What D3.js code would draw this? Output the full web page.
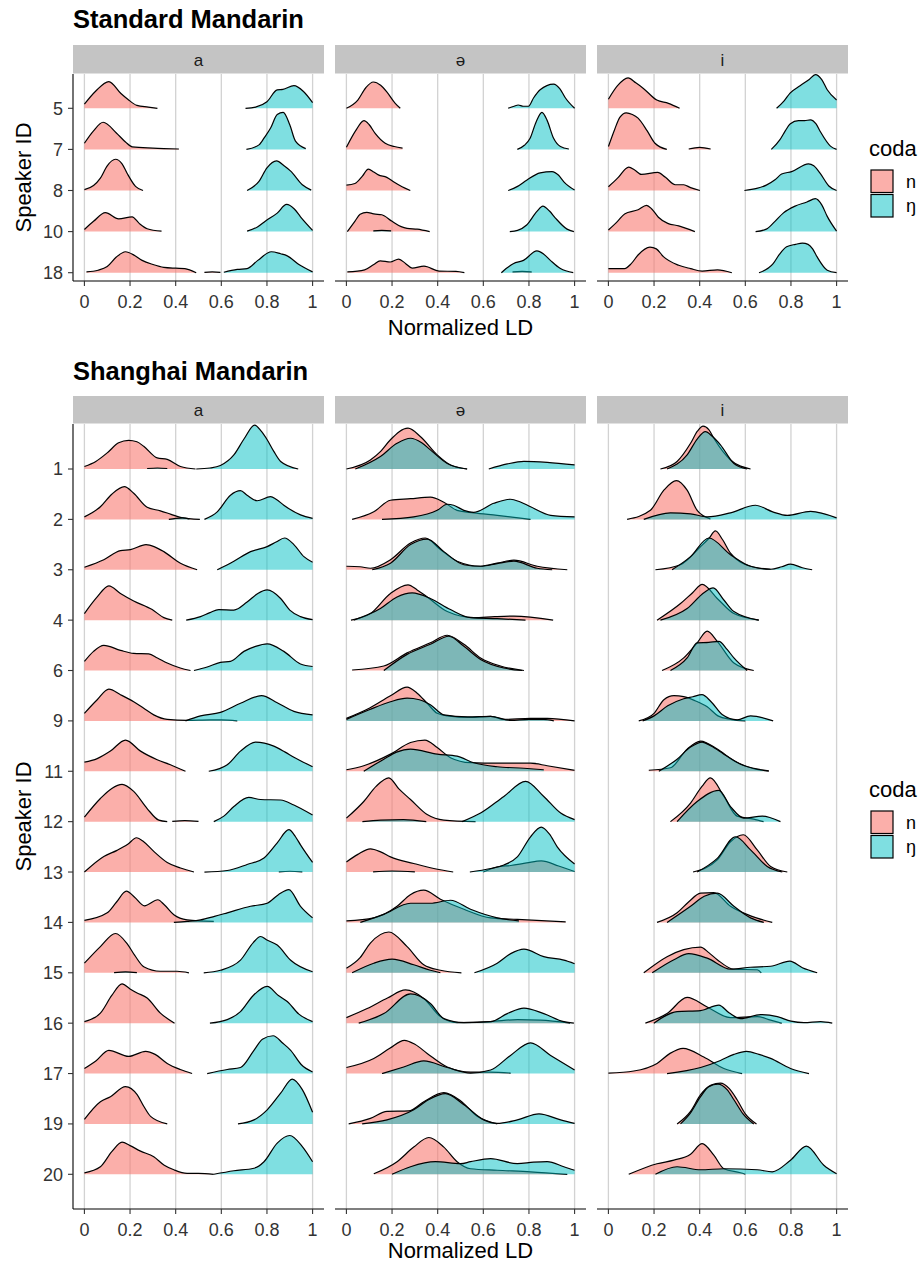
<!DOCTYPE html>
<html><head><meta charset="utf-8">
<script src="https://cdn.jsdelivr.net/npm/d3@7"></script>
<style>body{margin:0;background:#fff} text{font-family:"Liberation Sans",Arial,Helvetica,sans-serif}</style>
</head><body><svg id="c" width="922" height="1263"></svg>
<script>
const vowels = ["a","ə","i"];
const codas = ["n","ŋ"];
const codaColors = ["#F8766D","#00BFC4"];
const codaOpacity = [0.58,0.5];
const xTicks = [0,0.2,0.4,0.6,0.8,1];
const xTickLabels = ["0","0.2","0.4","0.6","0.8","1"];
const stdSpeakers = ["5","7","8","10","18"];
const shSpeakers = ["1","2","3","4","6","9","11","12","13","14","15","16","17","19","20"];

// Each ridge: [normalized LD, relative density height]; a null height breaks the ridge
const std_a_n = {
"5":[[0,.10],[.05,.42],[.107,.65],[.16,.36],[.19,.22],[.23,.07],[.28,.03],[.32,0]],
"7":[[0,.15],[.04,.45],[.082,.66],[.14,.40],[.18,.18],[.21,.06],[.3,.03],[.414,.01]],
"8":[[0,.02],[.04,.12],[.07,.30],[.10,.60],[.136,.76],[.165,.65],[.187,.42],[.224,.1],[.257,0]],
"10":[[0,.05],[.04,.25],[.092,.46],[.15,.31],[.209,.36],[.24,.2],[.275,.07],[.338,.01]],
"18":[[.009,.02],[.06,.06],[.1,.15],[.14,.38],[.18,.51],[.22,.42],[.253,.3],[.3,.2],[.348,.13],[.4,.11],[.44,.1],[.49,0],[.51,null],[.526,.01],[.56,.02],[.596,.01]]
};
const std_a_ng = {
"5":[[.706,0],[.75,.03],[.80,.16],[.845,.45],[.87,.46],[.918,.55],[.96,.41],[1,.14]],
"7":[[.71,0],[.765,.11],[.79,.3],[.816,.52],[.845,.85],[.871,.9],[.9,.6],[.925,.2],[.97,.02]],
"8":[[.713,0],[.765,.22],[.80,.55],[.842,.72],[.875,.6],[.904,.47],[.955,.14],[.994,.01]],
"10":[[.713,.01],[.76,.12],[.794,.26],[.845,.45],[.886,.66],[.92,.55],[.947,.36],[1,.03]],
"18":[[.611,.01],[.67,.08],[.713,.1],[.76,.3],[.819,.51],[.86,.46],[.889,.41],[.94,.2],[1,.02]]
};
const std_e_n = {
"5":[[0,0],[.05,.2],[.085,.5],[.118,.64],[.15,.56],[.177,.4],[.214,.12],[.236,0]],
"7":[[0,.05],[.04,.45],[.077,.70],[.10,.6],[.126,.39],[.17,.15],[.21,.07],[.246,.03]],
"8":[[0,.13],[.037,.17],[.07,.35],[.096,.52],[.12,.45],[.14,.38],[.177,.32],[.21,.2],[.244,.09],[.28,0]],
"10":[[.004,0],[.037,.25],[.06,.42],[.089,.47],[.12,.43],[.155,.41],[.2,.25],[.24,.12],[.266,.08],[.31,.06],[.365,0]],
"18":[[.004,.02],[.08,.07],[.12,.2],[.148,.29],[.192,.26],[.229,.33],[.26,.22],[.288,.11],[.34,.16],[.406,.04],[.48,.03],[.517,0],[.6,null],[.728,.02],[.77,.03],[.812,.02]]
};
const std_e_ng = {
"5":[[.709,0],[.735,.05],[.753,.08],[.775,.05],[.798,.05],[.82,.25],[.849,.45],[.908,.59],[.935,.48],[.96,.25],[1,0]],
"7":[[.749,0],[.78,.1],[.805,.27],[.83,.65],[.857,.9],[.88,.7],[.908,.27],[.938,.07],[.975,.01]],
"8":[[.709,0],[.75,.1],[.79,.25],[.849,.43],[.901,.46],[.93,.37],[.953,.21],[1,.01]],
"10":[[.118,.02],[.155,.03],[.196,.02],[.45,null],[.716,0],[.75,.03],[.79,.16],[.835,.49],[.861,.62],[.89,.5],[.916,.33],[.967,.06],[.997,0]],
"18":[[.679,0],[.70,.1],[.731,.22],[.776,.3],[.835,.53],[.865,.45],[.894,.3],[.938,.1],[.994,0]]
};
const std_i_n = {
"5":[[0,.22],[.04,.55],[.086,.74],[.12,.62],[.152,.49],[.212,.2],[.263,.12],[.312,0]],
"7":[[0,.07],[.027,.48],[.05,.78],[.078,.89],[.105,.85],[.13,.76],[.17,.45],[.204,.15],[.256,0],[.3,null],[.352,.01],[.40,.05],[.448,.01]],
"8":[[0,.09],[.04,.3],[.089,.57],[.115,.5],[.145,.39],[.216,.44],[.25,.32],[.293,.14],[.33,.14],[.36,.07],[.401,0]],
"10":[[0,.04],[.04,.25],[.071,.43],[.13,.53],[.167,.64],[.19,.55],[.219,.35],[.26,.2],[.308,.14],[.379,0]],
"18":[[0,.1],[.071,.1],[.1,.22],[.13,.43],[.182,.62],[.21,.58],[.241,.39],[.308,.18],[.36,.1],[.411,.04],[.478,.07],[.541,0]]
};
const std_i_ng = {
"5":[[.737,0],[.77,.18],[.796,.37],[.84,.55],[.88,.7],[.907,.82],[.935,.7],[.959,.45],[1,.2]],
"7":[[.714,0],[.751,.23],[.775,.45],[.796,.62],[.833,.70],[.86,.7],[.885,.72],[.91,.62],[.929,.43],[.973,.08],[1,0]],
"8":[[.596,0],[.65,.05],[.692,.13],[.73,.26],[.759,.4],[.803,.46],[.877,.65],[.9,.6],[.929,.41],[.966,.11],[1,0]],
"10":[[.645,0],[.692,.06],[.73,.25],[.766,.45],[.818,.62],[.87,.72],[.907,.8],[.935,.65],[.959,.37],[1,.01]],
"18":[[.66,0],[.722,.22],[.75,.45],[.781,.63],[.82,.69],[.85,.72],[.875,.69],[.895,.58],[.914,.39],[.959,.06],[1,0]]
};

const sh_a_n = {
"1":[[0,.05],[.05,.15],[.1,.32],[.15,.52],[.194,.57],[.23,.54],[.26,.45],[.319,.22],[.363,.19],[.421,.05],[.487,0]],
"2":[[0,.05],[.07,.25],[.12,.5],[.175,.65],[.216,.52],[.275,.24],[.333,.17],[.38,.1],[.421,.04],[.506,0]],
"3":[[0,.05],[.085,.2],[.158,.38],[.202,.4],[.27,.5],[.31,.45],[.348,.36],[.421,.13],[.494,0]],
"4":[[0,.13],[.056,.46],[.107,.68],[.158,.53],[.216,.38],[.297,.21],[.348,.05],[.385,0]],
"6":[[0,.18],[.04,.38],[.085,.5],[.158,.4],[.216,.34],[.282,.33],[.32,.25],[.363,.15],[.42,.05],[.465,0]],
"9":[[0,.15],[.056,.42],[.107,.63],[.158,.52],[.216,.38],[.26,.25],[.304,.12],[.363,.03],[.45,.01],[.55,.02],[.6,.02],[.67,0]],
"11":[[0,.18],[.056,.25],[.114,.4],[.18,.62],[.246,.4],[.319,.23],[.377,.13],[.443,0]],
"12":[[0,.09],[.07,.46],[.12,.66],[.165,.74],[.216,.6],[.275,.26],[.326,.03],[.363,0],[.375,null],[.385,.005],[.44,.02],[.5,.005]],
"13":[[0,0],[.085,.31],[.143,.43],[.19,.55],[.228,.68],[.26,.6],[.304,.41],[.363,.19],[.421,.08],[.48,0],[.5,null],[.852,.005],[.9,.015],[.955,.005]],
"14":[[0,.04],[.1,.19],[.14,.4],[.184,.62],[.22,.5],[.263,.33],[.322,.45],[.35,.35],[.392,.15],[.45,.05],[.567,.02]],
"15":[[0,.19],[.07,.52],[.136,.78],[.187,.58],[.22,.35],[.26,.12],[.333,.03],[.406,.03],[.458,0]],
"16":[[0,.03],[.07,.2],[.12,.55],[.165,.78],[.2,.68],[.231,.6],[.275,.5],[.333,.2],[.395,0]],
"17":[[0,.1],[.05,.25],[.107,.46],[.194,.34],[.268,.44],[.31,.38],[.363,.2],[.42,.08],[.472,0]],
"19":[[0,.09],[.07,.44],[.114,.54],[.18,.74],[.231,.58],[.26,.35],[.29,.15],[.363,0]],
"20":[[0,.03],[.07,.15],[.12,.45],[.165,.64],[.2,.57],[.246,.46],[.304,.35],[.35,.18],[.392,.09],[.45,.02],[.5,.02],[.567,0]]
};
const sh_a_ng = {
"1":[[.275,.01],[.32,.02],[.363,.01],[.4,null],[.49,0],[.55,.02],[.596,.07],[.655,.28],[.70,.6],[.746,.87],[.775,.75],[.801,.58],[.83,.35],[.86,.15],[.937,0]],
"2":[[.37,0],[.40,.02],[.43,.03],[.46,.01],[.5,null],[.526,0],[.582,.15],[.64,.48],[.684,.57],[.713,.48],[.757,.37],[.816,.45],[.84,.4],[.874,.28],[.947,.09],[1,.02]],
"3":[[.582,0],[.655,.17],[.728,.36],[.801,.46],[.84,.55],[.877,.63],[.918,.5],[.962,.26],[1,.15]],
"4":[[.446,0],[.509,.07],[.55,.15],[.589,.21],[.655,.2],[.713,.36],[.76,.53],[.801,.6],[.86,.43],[.9,.2],[.947,.07],[1,.01]],
"6":[[.48,0],[.538,.07],[.596,.16],[.64,.18],[.699,.38],[.75,.48],[.801,.53],[.874,.38],[.947,.13],[1,.08]],
"9":[[.443,0],[.509,.1],[.596,.17],[.684,.35],[.776,.5],[.845,.36],[.918,.19],[1,.12]],
"11":[[.545,0],[.626,.13],[.684,.4],[.75,.58],[.83,.5],[.88,.38],[.918,.28],[1,.09]],
"12":[[.567,0],[.611,.11],[.655,.3],[.72,.48],[.772,.44],[.86,.43],[.918,.33],[1,.13]],
"13":[[.526,0],[.626,.03],[.713,.15],[.787,.28],[.845,.58],[.896,.84],[.925,.7],[.947,.54],[1,.19]],
"14":[[.392,0],[.45,.02],[.509,.05],[.57,.12],[.626,.19],[.728,.32],[.801,.38],[.85,.55],[.896,.65],[.947,.32],[1,.09]],
"15":[[.13,.005],[.18,.02],[.23,.005],[.3,null],[.523,0],[.596,.05],[.684,.25],[.74,.6],[.772,.72],[.80,.65],[.845,.55],[.904,.25],[1,.02]],
"16":[[.55,0],[.626,.07],[.684,.23],[.74,.55],[.801,.73],[.85,.55],[.889,.43],[.94,.18],[1,.03]],
"17":[[.538,0],[.626,.08],[.684,.12],[.743,.46],[.78,.68],[.827,.75],[.87,.6],[.904,.46],[.95,.18],[1,.03]],
"19":[[.673,0],[.743,.08],[.801,.28],[.86,.61],[.911,.89],[.955,.68],[1,.23]],
"20":[[.567,0],[.655,.07],[.743,.12],[.787,.25],[.845,.62],[.9,.77],[.955,.55],[1,.25]]
};
const sh_e_n = {
"1":[[0,0],[.105,.18],[.15,.35],[.193,.58],[.27,.81],[.325,.64],[.398,.28],[.456,.08],[.529,0]],
"2":[[.025,0],[.12,.15],[.193,.38],[.281,.41],[.368,.44],[.427,.34],[.485,.18],[.558,.13],[.661,.08],[.807,0]],
"3":[[0,.07],[.06,.06],[.105,.03],[.193,.2],[.281,.53],[.346,.63],[.412,.4],[.485,.17],[.588,.07],[.66,.13],[.734,.19],[.836,.07],[.968,0]],
"4":[[.02,0],[.105,.13],[.193,.53],[.27,.7],[.31,.6],[.354,.46],[.442,.17],[.558,.05],[.65,.07],[.734,.08],[.906,0]],
"6":[[.025,.01],[.164,.09],[.266,.35],[.368,.55],[.442,.7],[.515,.52],[.588,.25],[.675,.09],[.778,0]],
"9":[[0,.05],[.1,.25],[.193,.5],[.266,.67],[.31,.55],[.354,.35],[.398,.15],[.442,.1],[.544,.07],[.632,.09],[.69,.03],[.807,.05],[.88,.05],[1,0]],
"11":[[0,.03],[.076,.11],[.193,.34],[.281,.57],[.344,.62],[.398,.47],[.456,.27],[.544,.17],[.661,.16],[.807,.16],[.88,.11],[1,.02]],
"12":[[0,.07],[.076,.4],[.13,.7],[.186,.87],[.23,.65],[.281,.44],[.354,.14],[.427,.03],[.566,0]],
"13":[[0,.2],[.05,.35],[.105,.46],[.15,.4],[.193,.3],[.295,.17],[.383,.07],[.468,0],[.55,null],[.6,0],[.66,.1],[.72,.13],[.79,.18],[.854,.22],[.93,.12],[1,.01]],
"14":[[0,.03],[.12,.09],[.222,.32],[.28,.55],[.339,.64],[.412,.46],[.515,.26],[.632,.09],[.749,.06],[.961,.01]],
"15":[[0,.09],[.06,.3],[.105,.59],[.186,.81],[.266,.52],[.339,.16],[.412,.05],[.504,0]],
"16":[[0,.11],[.091,.29],[.18,.5],[.259,.66],[.339,.49],[.412,.13],[.485,.01],[.632,.03],[.75,.07],[.85,.06],[.98,0]],
"17":[[0,.12],[.12,.3],[.19,.5],[.254,.66],[.3,.58],[.354,.4],[.442,.13],[.544,.03],[.63,.03],[.72,.01]],
"19":[[.01,0],[.105,.11],[.178,.25],[.273,.26],[.339,.44],[.427,.62],[.5,.46],[.573,.15],[.661,0]],
"20":[[.12,.01],[.222,.25],[.295,.54],[.361,.73],[.427,.54],[.485,.25],[.544,.11],[.661,.08],[.807,.05],[.968,0]]
};
const sh_e_ng = {
"1":[[.039,0],[.149,.25],[.222,.51],[.281,.61],[.33,.52],[.368,.38],[.442,.11],[.529,0],[.58,null],[.624,0],[.705,.1],[.778,.15],[.88,.13],[1,.08]],
"2":[[.156,0],[.295,.05],[.398,.18],[.442,.3],[.47,.28],[.515,.18],[.558,.14],[.646,.32],[.719,.4],[.76,.35],[.807,.25],[.895,.08],[1,.05]],
"3":[[.113,0],[.193,.13],[.281,.5],[.354,.61],[.427,.36],[.515,.1],[.588,.07],[.66,.12],[.734,.17],[.836,.03],[.902,0]],
"4":[[.032,0],[.149,.23],[.222,.46],[.288,.54],[.368,.43],[.456,.21],[.544,.05],[.661,.03],[.785,0]],
"6":[[.164,0],[.266,.32],[.368,.52],[.449,.68],[.515,.48],[.588,.22],[.69,.05],[.77,0]],
"9":[[0,.03],[.1,.22],[.193,.38],[.266,.45],[.32,.42],[.368,.32],[.427,.12],[.53,.08],[.632,.09],[.719,.01],[.8,.03],[.865,.03],[.909,0]],
"11":[[.076,0],[.164,.24],[.22,.38],[.281,.44],[.398,.34],[.485,.3],[.558,.17],[.661,.09],[.778,.06],[.865,.03]],
"12":[[.07,0],[.15,.03],[.25,.04],[.35,0],[.4,null],[.507,0],[.588,.17],[.69,.5],[.785,.8],[.865,.5],[.939,.17],[1,.04]],
"13":[[.117,.005],[.2,.02],[.3,.005],[.4,null],[.541,0],[.632,.07],[.69,.14],[.749,.3],[.807,.7],[.854,.89],[.89,.75],[.924,.5],[1,.16]],
"14":[[.061,0],[.164,.16],[.281,.38],[.368,.38],[.456,.44],[.544,.26],[.661,.09],[.756,.03]],
"15":[[.025,0],[.12,.19],[.2,.27],[.295,.16],[.368,.05],[.412,0],[.48,null],[.561,0],[.661,.19],[.72,.38],[.778,.47],[.865,.32],[.953,.25],[1,.18]],
"16":[[.054,0],[.164,.19],[.281,.58],[.368,.39],[.427,.09],[.515,.01],[.632,.03],[.705,.19],[.778,.3],[.865,.19],[.953,.03],[.997,0]],
"17":[[.156,0],[.251,.13],[.339,.25],[.442,.12],[.544,.01],[.632,.07],[.719,.36],[.807,.61],[.895,.36],[1,.07]],
"19":[[.069,0],[.178,.08],[.295,.28],[.36,.48],[.434,.6],[.515,.38],[.602,.08],[.661,.01],[.749,.08],[.844,.2],[.939,.08],[1,.01]],
"20":[[.2,0],[.281,.15],[.39,.25],[.5,.21],[.544,.25],[.632,.31],[.749,.21],[.82,.24],[.88,.25],[.953,.15],[1,.08]]
};
const sh_i_n = {
"1":[[.228,0],[.301,.15],[.36,.51],[.39,.75],[.415,.85],[.44,.78],[.462,.61],[.535,.18],[.623,0]],
"2":[[.082,0],[.184,.18],[.243,.58],[.298,.77],[.345,.58],[.389,.18],[.447,.01]],
"3":[[.206,0],[.316,.1],[.404,.46],[.44,.62],[.469,.77],[.5,.6],[.535,.33],[.623,.07],[.711,.01]],
"4":[[.213,0],[.316,.33],[.37,.55],[.411,.71],[.477,.43],[.55,.13],[.659,0]],
"6":[[.235,0],[.33,.25],[.389,.55],[.433,.78],[.477,.58],[.55,.15],[.637,0]],
"9":[[.133,0],[.2,.15],[.243,.42],[.287,.5],[.33,.48],[.38,.4],[.433,.28],[.48,.1],[.535,.03],[.6,0]],
"11":[[.177,.02],[.272,.07],[.345,.44],[.404,.6],[.477,.44],[.55,.21],[.637,.05],[.703,.01]],
"12":[[.272,0],[.36,.37],[.41,.7],[.447,.87],[.506,.5],[.564,.11],[.637,.05],[.68,0]],
"13":[[.371,0],[.477,.24],[.535,.6],[.591,.74],[.652,.44],[.711,.11],[.784,0]],
"14":[[.213,0],[.301,.19],[.35,.4],[.404,.58],[.462,.59],[.535,.32],[.623,.13],[.718,0]],
"15":[[.155,0],[.257,.32],[.33,.46],[.404,.51],[.44,.4],[.477,.26],[.55,.07],[.652,.06],[.67,0]],
"16":[[.162,0],[.257,.19],[.345,.51],[.433,.32],[.535,.11],[.652,.13],[.711,.06],[.76,0]],
"17":[[0,.01],[.111,.05],[.213,.2],[.27,.4],[.327,.5],[.418,.33],[.506,.1],[.586,0]],
"19":[[.301,0],[.36,.25],[.404,.58],[.45,.77],[.491,.81],[.53,.7],[.564,.48],[.6,.2],[.649,0]],
"20":[[.089,0],[.213,.21],[.287,.28],[.36,.4],[.411,.61],[.462,.38],[.506,.11],[.579,.03],[.6,0]]
};
const sh_i_ng = {
"1":[[.257,0],[.345,.28],[.39,.6],[.425,.74],[.455,.65],[.491,.48],[.55,.11],[.608,0]],
"2":[[.155,0],[.272,.13],[.36,.11],[.433,.05],[.535,.13],[.645,.28],[.72,.15],[.784,.08],[.886,.16],[1,.03]],
"3":[[.279,0],[.36,.26],[.44,.63],[.535,.3],[.623,.07],[.711,.01],[.76,.06],[.798,.11],[.85,.04],[.893,0]],
"4":[[.228,0],[.345,.23],[.42,.55],[.459,.64],[.506,.4],[.55,.17],[.659,0]],
"6":[[.272,0],[.345,.25],[.389,.55],[.44,.56],[.484,.58],[.52,.42],[.55,.25],[.608,0]],
"9":[[.15,0],[.2,.1],[.26,.3],[.33,.44],[.37,.48],[.41,.52],[.45,.38],[.5,.12],[.564,.02],[.623,.1],[.722,0]],
"11":[[.221,0],[.301,.24],[.36,.48],[.411,.58],[.45,.5],[.506,.34],[.579,.14],[.667,.03],[.703,0]],
"12":[[.301,0],[.389,.4],[.484,.62],[.535,.3],[.594,.07],[.674,.11],[.754,0]],
"13":[[.389,0],[.477,.27],[.557,.7],[.623,.44],[.696,.11],[.762,0]],
"14":[[.257,0],[.36,.32],[.42,.52],[.477,.58],[.55,.32],[.623,.09],[.681,0]],
"15":[[.192,0],[.287,.26],[.352,.38],[.433,.29],[.535,.07],[.623,.11],[.711,.13],[.795,.23],[.85,.1],[.915,0]],
"16":[[.199,0],[.301,.23],[.404,.25],[.484,.36],[.53,.2],[.579,.09],[.667,.17],[.74,.13],[.8,.04],[.857,.01],[.93,.03],[.981,0]],
"17":[[.257,0],[.404,.12],[.491,.26],[.55,.38],[.605,.44],[.66,.38],[.711,.3],[.798,.1],[.879,0]],
"19":[[.316,0],[.36,.22],[.404,.54],[.44,.74],[.48,.79],[.52,.68],[.55,.48],[.59,.2],[.637,0]],
"20":[[.206,0],[.301,.15],[.404,.09],[.506,.11],[.652,.09],[.718,.05],[.798,.28],[.868,.56],[.944,.18],[1,.01]]
};

// ---------- layout ----------
const svg = d3.select("#c");
const FONT_TICK = 18, FONT_TITLE_AX = 22, FONT_STRIP = 17, FONT_TITLE = 25.5;
const panelX = [[73,324],[335,586],[597,848]];

const charts = [
  {title:"Standard Mandarin", speakers:stdSpeakers,
   data:[[std_a_n,std_a_ng],[std_e_n,std_e_ng],[std_i_n,std_i_ng]],
   titleY:28, stripTop:45, panelTop:74, panelBot:281, firstY:108.3, lastY:272.7, legendY:156, axTitleY:335},
  {title:"Shanghai Mandarin", speakers:shSpeakers,
   data:[[sh_a_n,sh_a_ng],[sh_e_n,sh_e_ng],[sh_i_n,sh_i_ng]],
   titleY:380, stripTop:396, panelTop:424, panelBot:1209, firstY:469, lastY:1174.3, legendY:797, axTitleY:1258}
];

function splitSegs(pts){
  const out=[]; let cur=[];
  pts.forEach(p=>{ if(p[1]==null){ if(cur.length) out.push(cur); cur=[]; } else cur.push(p); });
  if(cur.length) out.push(cur);
  return out;
}

charts.forEach(ch=>{
  const g = svg.append("g");
  const y = d3.scalePoint().domain(ch.speakers).range([ch.firstY, ch.lastY]);
  const spacing = y.step();
  const hScale = d3.scaleLinear().domain([0,1]).range([0, spacing]);

  g.append("text").attr("x",73).attr("y",ch.titleY).attr("font-size",FONT_TITLE).attr("font-weight","bold").attr("fill","#000").text(ch.title);

  vowels.forEach((v,vi)=>{
    const [px0,px1] = panelX[vi];
    const x = d3.scaleLinear().domain([-0.05,1.05]).range([px0,px1]);
    // strip
    g.append("rect").attr("x",px0).attr("y",ch.stripTop).attr("width",px1-px0).attr("height",ch.panelTop-ch.stripTop-0.5).attr("fill","#C4C4C4");
    g.append("text").attr("x",(px0+px1)/2).attr("y",(ch.stripTop+ch.panelTop)/2).attr("dy","0.36em").attr("text-anchor","middle").attr("font-size",FONT_STRIP).attr("fill","#1A1A1A").text(v);
    // grid
    g.selectAll(null).data(xTicks).enter().append("line")
      .attr("x1",d=>x(d)).attr("x2",d=>x(d)).attr("y1",ch.panelTop).attr("y2",ch.panelBot)
      .attr("stroke","#D2D2D2").attr("stroke-width",1.3);
    // ridges
    const pg = g.append("g");
    ch.speakers.forEach(sp=>{
      const base = y(sp);
      codas.forEach((c,ci)=>{
        const pts = ch.data[vi][ci][sp];
        if(!pts) return;
        const area = d3.area().x(d=>x(d[0])).y0(base).y1(d=>base-hScale(d[1])).curve(d3.curveMonotoneX);
        const line = d3.line().x(d=>x(d[0])).y(d=>base-hScale(d[1])).curve(d3.curveMonotoneX);
        splitSegs(pts).forEach(seg=>{
          pg.append("path").attr("d",area(seg)).attr("fill",codaColors[ci]).attr("fill-opacity",codaOpacity[ci]).attr("stroke","none");
          pg.append("path").attr("d",line(seg)).attr("fill","none").attr("stroke","#000").attr("stroke-width",1.2);
        });
      });
    });
    // x axis
    g.append("line").attr("x1",px0).attr("x2",px1).attr("y1",ch.panelBot).attr("y2",ch.panelBot).attr("stroke","#000").attr("stroke-width",1.1);
    g.selectAll(null).data(xTicks).enter().append("line")
      .attr("x1",d=>x(d)).attr("x2",d=>x(d)).attr("y1",ch.panelBot).attr("y2",ch.panelBot+5).attr("stroke","#333").attr("stroke-width",1.1);
    g.selectAll(null).data(xTicks).enter().append("text")
      .attr("x",d=>x(d)).attr("y",ch.panelBot+27).attr("text-anchor","middle").attr("font-size",FONT_TICK).attr("fill","#333")
      .text((d,i)=>xTickLabels[i]);
  });
  // y axis
  g.append("line").attr("x1",73).attr("x2",73).attr("y1",ch.panelTop).attr("y2",ch.panelBot).attr("stroke","#000").attr("stroke-width",1.1);
  g.selectAll(null).data(ch.speakers).enter().append("line")
    .attr("x1",68).attr("x2",73).attr("y1",d=>y(d)).attr("y2",d=>y(d)).attr("stroke","#333").attr("stroke-width",1.1);
  g.selectAll(null).data(ch.speakers).enter().append("text")
    .attr("x",63).attr("y",d=>y(d)).attr("dy","0.36em").attr("text-anchor","end").attr("font-size",FONT_TICK).attr("fill","#333").text(d=>d);
  // axis titles
  g.append("text").attr("x",(73+848)/2).attr("y",ch.axTitleY).attr("text-anchor","middle").attr("font-size",FONT_TITLE_AX).attr("fill","#000").text("Normalized LD");
  g.append("text").attr("transform",`translate(31,${(ch.panelTop+ch.panelBot)/2}) rotate(-90)`).attr("text-anchor","middle").attr("font-size",FONT_TITLE_AX).attr("fill","#000").text("Speaker ID");
  // legend
  const lg = g.append("g");
  lg.append("text").attr("x",869).attr("y",ch.legendY).attr("font-size",FONT_TITLE_AX).attr("fill","#000").text("coda");
  codas.forEach((c,ci)=>{
    const ky = ch.legendY + 14 + ci*24.5;
    lg.append("rect").attr("x",871).attr("y",ky).attr("width",22).attr("height",22.5)
      .attr("fill",codaColors[ci]).attr("fill-opacity",codaOpacity[ci]).attr("stroke","#000").attr("stroke-width",1.2);
    lg.append("text").attr("x",906).attr("y",ky+11.25).attr("dy","0.36em").attr("font-size",FONT_TICK).attr("fill","#000").text(c);
  });
});
</script></body></html>
